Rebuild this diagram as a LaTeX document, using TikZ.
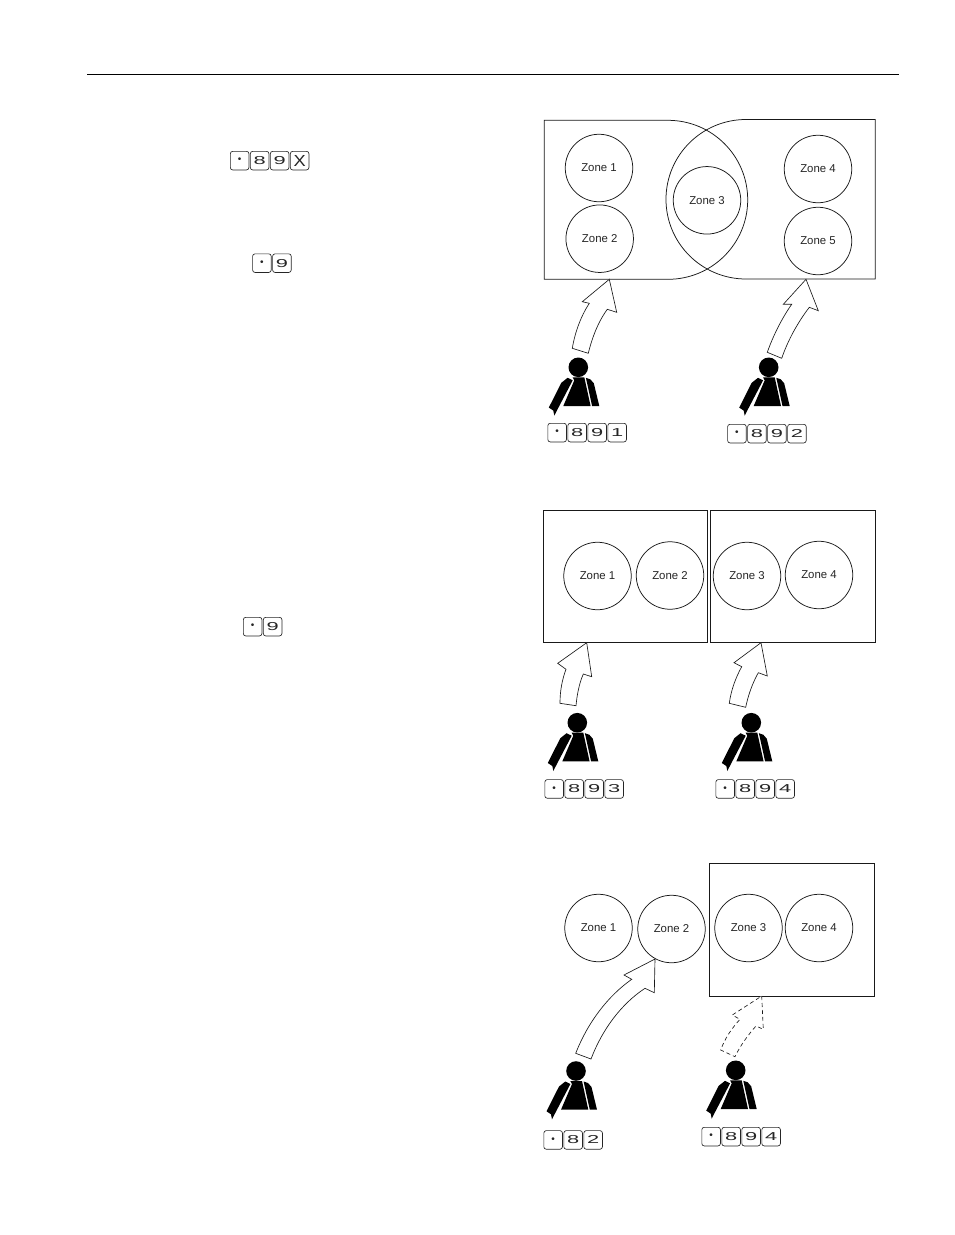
\documentclass[tikz,border=0pt]{standalone}
\usepackage{graphicx}
\usepackage{fontspec}
\setmainfont{Liberation Sans}
\tikzset{
  x=1pt,y=-1pt,
  line/.style={draw=black!90,line width=0.75pt},
  zone/.style={circle,line,minimum size=67.5pt,inner sep=0pt,font=\fontsize{11.4}{13}\selectfont,text=black!85},
  keycap/.style={rectangle,draw=black!85,line width=0.65pt,rounded corners=2.4pt,minimum width=18.6pt,minimum height=18.6pt,inner sep=0pt,anchor=north west,font=\fontsize{11.5}{13}\selectfont,text=black!85},
  blockarrow/.style={draw=black!90,line width=0.65pt,fill=white,line join=miter},
  dasharrow/.style={blockarrow,dash pattern=on 4pt off 3pt},
}
% \keyrow{name}{x}{y}{labels}
\newcommand{\keyrow}[4]{%
  \foreach \lab [count=\i from 0] in {#4}{%
    \node[keycap] (#1-\i) at ({#2+20*\i},#3) {\scalebox{1.9}[1]{\lab}};
  }%
}
\newcommand{\kdot}{\raisebox{-1.4pt}{\scalebox{0.53}[1]{\fontsize{10}{10}\selectfont\textbullet}}}
\newcommand{\kx}{\scalebox{0.6}[1]{\fontsize{16}{16}\selectfont X}}
\newcommand{\operator}[2]{%
  \begin{scope}[shift={(#1,#2)}]
    \fill[black] (0,0) circle[radius=9.8pt];
    \fill[black] (-5.7,10) -- (6,10) -- (12.3,38.7) -- (-15,38.7) -- (-4,13) -- cycle;
    \fill[black] (-10.7,10.5) -- (-5.6,13) -- (-20.5,41.5) -- (-24,48.3) -- (-25,43.3) -- (-29.5,40.3) -- (-17,15.5) -- cycle;
    \fill[black] (7.6,10.5) -- (12,12) -- (15.5,16) -- (21,38.7) -- (13.8,38.7) -- cycle;
  \end{scope}%
}
\begin{document}
\begin{tikzpicture}
\useasboundingbox (0,0) rectangle (954,1235);
\fill[white] (0,0) rectangle (954,1235);
% header rule
\coordinate (ruleL) at (87,74); \coordinate (ruleR) at (899,74);
\draw[line width=0.9pt,black] (ruleL) -- (ruleR);

% left column keys
\keyrow{a}{230}{151}{\kdot,8,9,\kx}
\keyrow{b}{252.3}{253.5}{\kdot,9}
\keyrow{c}{243}{617}{\kdot,9}

% ---- panel 1
\draw[line] (668,120.3) -- (544.3,120.3) -- (544.3,279.3) -- (668,279.3)
  .. controls (712,279.3) and (747.7,243.7) .. (747.7,199.8)
  .. controls (747.7,155.9) and (712,120.3) .. (668,120.3);
\draw[line] (746,119.5) -- (875.3,119.5) -- (875.3,279) -- (746,279)
  .. controls (702,279) and (666,243.5) .. (666,199.3)
  .. controls (666,155) and (702,119.5) .. (746,119.5);
\node[zone] (p1z1) at (599,168) {Zone 1};
\node[zone] (p1z2) at (599.7,238.7) {Zone 2};
\node[zone] (p1z3) at (707,200.3) {Zone 3};
\node[zone] (p1z4) at (818,169) {Zone 4};
\node[zone] (p1z5) at (818,241) {Zone 5};

\draw[blockarrow] (609.3,279.3) -- (616.7,312.3) -- (607.3,309.3)
  .. controls (598,322) and (592,338) .. (588.3,353.3) -- (572.3,348.3)
  .. controls (575,332) and (581,316) .. (589.3,303.3) -- (582.3,301.7) -- cycle;
\draw[blockarrow] (806,279.3) -- (818.3,310.7) -- (809.3,307.3)
  .. controls (798,322) and (788,340) .. (781.7,358.3) -- (767.3,352.3)
  .. controls (773,336) and (782,318) .. (791.7,304.3) -- (783.3,304.3) -- cycle;
\operator{578.3}{367.3}
\operator{768.7}{367.3}
\keyrow{d}{547.5}{423}{\kdot,8,9,1}
\keyrow{e}{727.3}{424}{\kdot,8,9,2}

% ---- panel 2
\node[line,rectangle,minimum width=164pt,minimum height=132pt,inner sep=0pt,anchor=north west] (p2a) at (543,510) {};
\node[line,rectangle,minimum width=165pt,minimum height=132pt,inner sep=0pt,anchor=north west] (p2b) at (710,510) {};
\node[zone] (p2z1) at (597.5,576) {Zone 1};
\node[zone] (p2z2) at (670,575.5) {Zone 2};
\node[zone] (p2z3) at (747,576) {Zone 3};
\node[zone] (p2z4) at (819,575) {Zone 4};

\draw[blockarrow] (586.7,642.7) -- (591.7,676.7) -- (583.3,674)
  .. controls (579,684) and (577,695) .. (576,705.7) -- (560,703.3)
  .. controls (560,691) and (562,680) .. (566,669.3) -- (557.7,663.3) -- cycle;
\draw[blockarrow] (761,642.7) -- (767.3,676) -- (758.3,672.7)
  .. controls (752,684) and (748,696) .. (745.7,707.3) -- (729.3,703.3)
  .. controls (731,690) and (736,677) .. (741.7,666.7) -- (734,662.7) -- cycle;
\operator{577.3}{722.7}
\operator{751.3}{722.7}
\keyrow{f}{544.5}{779.3}{\kdot,8,9,3}
\keyrow{g}{715.5}{779.3}{\kdot,8,9,4}

% ---- panel 3
\node[line,rectangle,minimum width=165pt,minimum height=133pt,inner sep=0pt,anchor=north west] (p3a) at (709,863) {};
\node[zone] (p3z1) at (598.5,928) {Zone 1};
\node[zone] (p3z2) at (671.5,929) {Zone 2};
\node[zone] (p3z3) at (748.5,928) {Zone 3};
\node[zone] (p3z4) at (819,928) {Zone 4};

\draw[blockarrow] (655,959) -- (654.3,992.7) -- (645,988.3)
  .. controls (621,1004) and (602,1030) .. (591,1059) -- (575.7,1053.3)
  .. controls (588,1022) and (608,996) .. (631.7,979.3) -- (624,975) -- cycle;
\draw[dasharrow] (761.7,996) -- (763.3,1029.3) -- (756,1026)
  .. controls (748,1035) and (740,1046) .. (735,1056.7) -- (720.7,1050)
  .. controls (725,1038) and (732,1028) .. (740,1019.3) -- (732.3,1015) -- cycle;
\operator{576}{1071}
\operator{735.7}{1070.3}
\keyrow{h}{543.5}{1130.3}{\kdot,8,2}
\keyrow{i}{701.5}{1127}{\kdot,8,9,4}
\end{tikzpicture}
\end{document}
